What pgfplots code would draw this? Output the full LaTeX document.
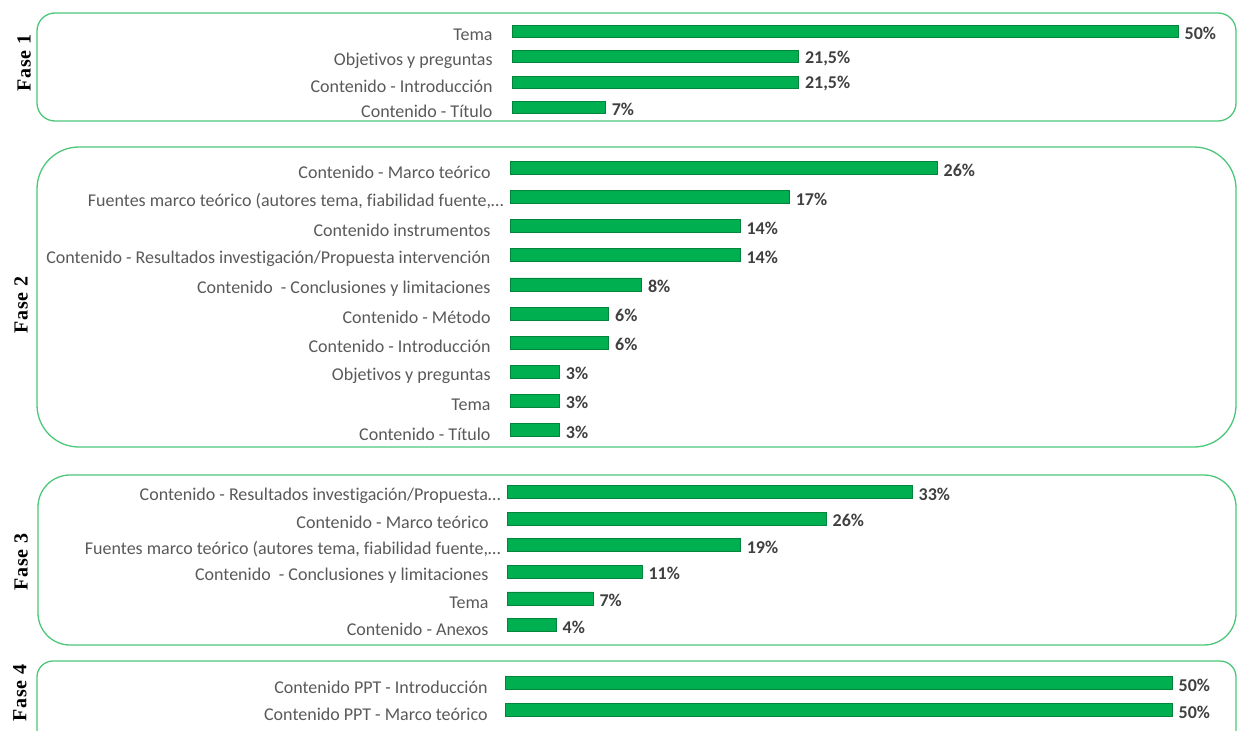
\documentclass[border=0pt]{standalone}
\usepackage{pgfplots}
\pgfplotsset{compat=1.18}
\usepackage{fontspec}
\setmainfont{Carlito}[Ligatures=NoCommon]
\newfontfamily\fasefont[LetterSpace=4]{Liberation Serif}

\definecolor{barra}{HTML}{00B050}
\definecolor{barraosc}{HTML}{00853A}
\definecolor{marco}{HTML}{4CC77A}
\definecolor{texto}{HTML}{595959}
\definecolor{valor}{HTML}{404040}

\pgfplotsset{
  fase/.style={
    xbar, scale only axis,
    y dir=reverse,
    xmin=0,
    axis line style={draw=none},
    tick style={draw=none},
    xtick=\empty,
    ytick=data,
    yticklabel style={font=\fontsize{18bp}{20bp}\selectfont, text=texto, inner sep=0pt, xshift=-15bp, yshift=-4bp, anchor=east},
    nodes near coords={\pgfmathprintnumber[use comma]{\pgfplotspointmeta}\%},
    nodes near coords style={font=\fontsize{18bp}{20bp}\selectfont\bfseries, text=valor, anchor=west, xshift=3bp, yshift=-2bp},
    /pgf/number format/assume math mode=true,
    clip=false,
  },
  barras/.style={fill=barra, draw=barraosc, line width=0.6bp},
}
\tikzset{fasenom/.style={rotate=90, font=\fasefont\fontsize{20bp}{22bp}\selectfont\bfseries}}

\begin{document}
\begin{tikzpicture}
\path[use as bounding box, clip] (0bp,0bp) rectangle (1240bp,-731bp);

% marcos de cada fase
\draw[marco, line width=1.3bp, rounded corners=18bp] (37bp,-13bp) rectangle (1236bp,-121bp);
\draw[marco, line width=1.3bp, rounded corners=42bp] (37bp,-147bp) rectangle (1236bp,-447bp);
\draw[marco, line width=1.3bp, rounded corners=32bp] (38bp,-475bp) rectangle (1236bp,-645bp);
\draw[marco, line width=1.3bp, rounded corners=16bp] (37bp,-661bp) rectangle (1236bp,-760bp);

% nombres de fase
\node[fasenom] at (24bp,-63bp) {Fase 1};
\node[fasenom] at (21bp,-305bp) {Fase 2};
\node[fasenom] at (21bp,-562bp) {Fase 3};
\node[fasenom] at (20bp,-693bp) {Fase 4};

% Fase 1
\begin{axis}[fase, at={(512bp,-18.25bp)}, anchor=north west,
  width=666bp, height=102bp, xmax=50, ymin=0.5, ymax=4.5, bar width=12bp,
  yticklabels={Tema, Objetivos y preguntas, Contenido - Introducción, Contenido - Título}]
\addplot[barras] coordinates {(50,1) (21.5,2) (21.5,3) (7,4)};
\end{axis}

% Fase 2
\begin{axis}[fase, at={(510bp,-153.4bp)}, anchor=north west,
  width=427bp, height=291.1bp, xmax=26, ymin=0.5, ymax=10.5, bar width=13bp,
  yticklabels={Contenido - Marco teórico,
    {Fuentes marco teórico (autores tema, fiabilidad fuente,…\kern-13bp},
    Contenido instrumentos,
    Contenido - Resultados investigación/Propuesta intervención,
    Contenido\ \ - Conclusiones y limitaciones,
    Contenido - Método, Contenido - Introducción, Objetivos y preguntas,
    Tema, Contenido - Título}]
\addplot[barras] coordinates {(26,1) (17,2) (14,3) (14,4) (8,5) (6,6) (6,7) (3,8) (3,9) (3,10)};
\end{axis}

% Fase 3
\begin{axis}[fase, at={(507bp,-478.7bp)}, anchor=north west,
  width=405bp, height=159.6bp, xmax=33, ymin=0.5, ymax=6.5, bar width=13bp,
  yticklabel style={xshift=1bp},
  yticklabels={{Contenido - Resultados investigación/Propuesta…\kern-12bp},
    Contenido - Marco teórico,
    {Fuentes marco teórico (autores tema, fiabilidad fuente,…\kern-12bp},
    Contenido\ \ - Conclusiones y limitaciones,
    Tema, Contenido - Anexos}]
\addplot[barras] coordinates {(33,1) (26,2) (19,3) (11,4) (7,5) (4,6)};
\end{axis}

% Fase 4
\begin{axis}[fase, at={(505bp,-669.5bp)}, anchor=north west,
  width=667bp, height=54bp, xmax=50, ymin=0.5, ymax=2.5, bar width=13bp,
  yticklabel style={xshift=2bp},
  yticklabels={Contenido PPT - Introducción, Contenido PPT - Marco teórico}]
\addplot[barras] coordinates {(50,1) (50,2)};
\end{axis}
\end{tikzpicture}
\end{document}
